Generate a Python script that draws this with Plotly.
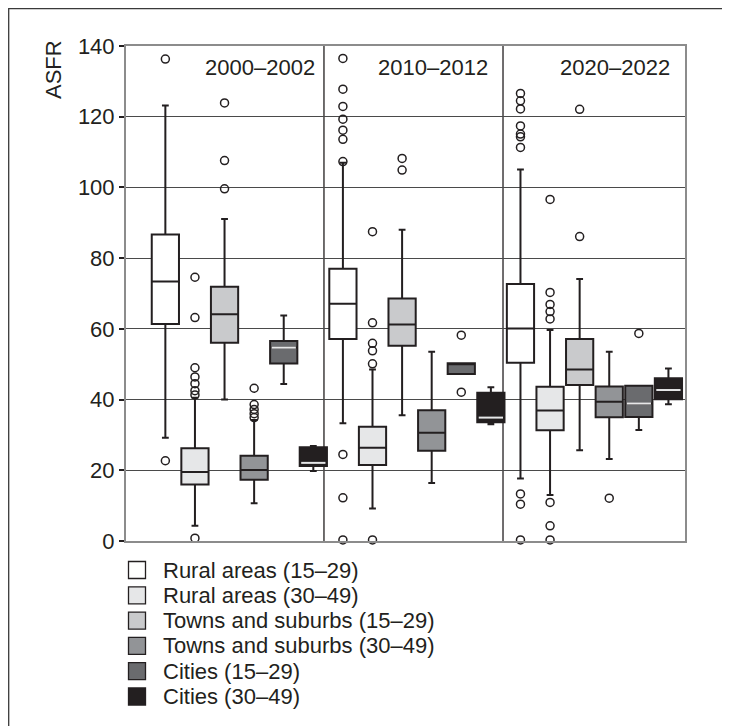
import plotly.graph_objects as go

# ---------------- data ----------------
periods = ["2000–2002", "2010–2012", "2020–2022"]
series = ["Rural areas (15–29)", "Rural areas (30–49)", "Towns and suburbs (15–29)",
          "Towns and suburbs (30–49)", "Cities (15–29)", "Cities (30–49)"]

# per series: values for the three periods
lower_whisker = {
    "Rural areas (15–29)":       [29.2, 33.3, 17.7],
    "Rural areas (30–49)":       [4.3, 9.2, 13.0],
    "Towns and suburbs (15–29)": [40.0, 35.6, 25.7],
    "Towns and suburbs (30–49)": [10.7, 16.4, 23.2],
    "Cities (15–29)":            [44.4, 47.2, 31.4],
    "Cities (30–49)":            [19.8, 33.0, 38.7],
}
q1 = {
    "Rural areas (15–29)":       [61.4, 57.1, 50.4],
    "Rural areas (30–49)":       [16.0, 21.5, 31.3],
    "Towns and suburbs (15–29)": [56.1, 55.2, 44.1],
    "Towns and suburbs (30–49)": [17.3, 25.5, 35.0],
    "Cities (15–29)":            [50.2, 47.2, 35.1],
    "Cities (30–49)":            [21.2, 33.6, 40.1],
}
median = {
    "Rural areas (15–29)":       [73.4, 67.1, 60.1],
    "Rural areas (30–49)":       [19.5, 26.4, 36.9],
    "Towns and suburbs (15–29)": [64.1, 61.2, 48.5],
    "Towns and suburbs (30–49)": [20.1, 30.6, 39.4],
    "Cities (15–29)":            [54.7, 50.3, 38.9],
    "Cities (30–49)":            [22.1, 34.9, 42.7],
}
q3 = {
    "Rural areas (15–29)":       [86.7, 77.0, 72.7],
    "Rural areas (30–49)":       [26.2, 32.3, 43.6],
    "Towns and suburbs (15–29)": [71.9, 68.6, 57.1],
    "Towns and suburbs (30–49)": [24.1, 37.0, 43.7],
    "Cities (15–29)":            [56.6, 50.3, 43.9],
    "Cities (30–49)":            [26.5, 41.9, 46.0],
}
upper_whisker = {
    "Rural areas (15–29)":       [123.2, 107.0, 105.1],
    "Rural areas (30–49)":       [40.5, 48.5, 59.7],
    "Towns and suburbs (15–29)": [91.1, 88.0, 74.1],
    "Towns and suburbs (30–49)": [34.2, 53.5, 53.5],
    "Cities (15–29)":            [63.8, 50.3, 43.9],
    "Cities (30–49)":            [26.9, 43.5, 48.8],
}
outliers = {
    "Rural areas (15–29)": [
        [136.3, 22.7],
        [136.5, 127.8, 122.9, 119.3, 116.2, 113.6, 107.3, 24.5, 12.2, 0.3],
        [126.6, 124.5, 122.2, 117.4, 115.1, 114.3, 111.3, 13.3, 10.4, 0.3]],
    "Rural areas (30–49)": [
        [74.6, 63.2, 49.0, 46.4, 44.5, 42.5, 41.3, 0.8],
        [87.5, 61.7, 55.9, 53.8, 50.1, 0.3],
        [96.6, 70.3, 66.9, 64.9, 62.8, 10.9, 4.3, 0.3]],
    "Towns and suburbs (15–29)": [
        [123.9, 107.6, 99.6],
        [108.2, 104.9],
        [122.1, 86.1]],
    "Towns and suburbs (30–49)": [
        [43.2, 38.6, 37.2, 36.0, 34.9],
        [],
        [12.1]],
    "Cities (15–29)": [
        [],
        [58.2, 42.1],
        [58.7]],
    "Cities (30–49)": [[], [], []],
}

y_ticks = [0, 20, 40, 60, 80, 100, 120, 140]

# ---------------- style ----------------
fills = ["#ffffff", "#e6e7e8", "#c9cacc", "#929497", "#6a6b6e", "#231f20"]
median_colors = ["#231f20", "#231f20", "#231f20", "#231f20", "#e6e7e8", "#e6e7e8"]
ink = "#231f20"
FONT = "Liberation Sans, Arial, Helvetica, sans-serif"

# figure is placed by the page with an 8 px body margin
W, H = 722, 718
ML, MR, MT, MB = 118, 45, 38, 185
PW, PH = W - ML - MR, H - MT - MB


def px_x(fx):   # figure pixel -> paper x
    return (fx - ML) / PW


def px_y(fy):   # figure pixel -> paper y
    return (H - MB - fy) / PH


first_pos = 1.33      # x position of first box in each panel
panel_step = 6.0      # distance between panels
box_w = 0.92
panel_right = [6.69, 12.74, 18.89]
title_shift = [-7, -13, -13]

fig = go.Figure()

for si, name in enumerate(series):
    xs = [first_pos + panel_step * p + si for p in range(len(periods))]
    fig.add_trace(go.Box(
        x=xs, q1=q1[name], median=median[name], q3=q3[name],
        lowerfence=lower_whisker[name], upperfence=upper_whisker[name],
        boxpoints=False, width=box_w, whiskerwidth=0.25,
        fillcolor=fills[si], line=dict(color=ink, width=2),
        name=name, showlegend=False, hoverinfo="skip"))

    # coloured median line (for dark boxes)
    if median_colors[si] != ink:
        mx, my = [], []
        for p, x in enumerate(xs):
            m = median[name][p]
            if q1[name][p] < m < q3[name][p]:
                mx += [x - box_w / 2 + 0.05, x + box_w / 2 - 0.05, None]
                my += [m, m, None]
        fig.add_trace(go.Scatter(x=mx, y=my, mode="lines",
                                 line=dict(color=median_colors[si], width=2),
                                 showlegend=False, hoverinfo="skip"))

    # outliers
    ox, oy = [], []
    for p, x in enumerate(xs):
        for v in outliers[name][p]:
            ox.append(x)
            oy.append(v)
    if ox:
        fig.add_trace(go.Scatter(x=ox, y=oy, mode="markers",
                                 marker=dict(symbol="circle-open", size=8,
                                             color=ink, line=dict(width=1.5, color=ink)),
                                 showlegend=False, hoverinfo="skip", cliponaxis=False))

shapes = []
annotations = []
for xr in panel_right[:-1]:
    shapes.append(dict(type="line", xref="x", yref="paper", x0=xr, x1=xr, y0=0, y1=1,
                       line=dict(color=ink, width=1.3), layer="below"))
# outer frame
shapes.append(dict(type="rect", xref="paper", yref="paper",
                   x0=px_x(0.7), x1=px_x(719), y0=px_y(H + 20), y1=px_y(0.7),
                   line=dict(color="#3a3a3a", width=1.3), fillcolor="rgba(0,0,0,0)"))

# legend (swatch + label per series)
leg_top, leg_step, sw = 562, 25.3, 17
for si, name in enumerate(series):
    cy = leg_top + leg_step * si
    shapes.append(dict(type="rect", xref="paper", yref="paper",
                       x0=px_x(120.5), x1=px_x(120.5 + sw),
                       y0=px_y(cy + sw / 2), y1=px_y(cy - sw / 2),
                       line=dict(color=ink, width=1.3), fillcolor=fills[si]))
    annotations.append(dict(text=name, x=px_x(153), xref="paper", xanchor="left",
                            y=px_y(cy), yref="paper", yanchor="middle", showarrow=False,
                            font=dict(size=22, color=ink, family=FONT)))

for p, per in enumerate(periods):
    annotations.append(dict(text=per, x=panel_right[p], xref="x", xanchor="right",
                            xshift=title_shift[p], y=px_y(59), yref="paper",
                            yanchor="middle", showarrow=False,
                            font=dict(size=22, color=ink, family=FONT)))
annotations.append(dict(text="ASFR", textangle=-90, x=px_x(46), xref="paper",
                        xanchor="center", y=px_y(62), yref="paper",
                        yanchor="middle", showarrow=False,
                        font=dict(size=22, color=ink, family=FONT)))

fig.update_layout(
    width=W, height=H,
    margin=dict(l=ML, r=MR, t=MT, b=MB, autoexpand=False),
    paper_bgcolor="white", plot_bgcolor="white",
    font=dict(family=FONT, color=ink, size=22),
    shapes=shapes, annotations=annotations, showlegend=False,
    xaxis=dict(range=[0, 18.89], showgrid=False, zeroline=False, showticklabels=False,
               ticks="", showline=True, mirror=True, linecolor="#8c8c8c", linewidth=2,
               fixedrange=True),
    yaxis=dict(range=[0, 140], tickvals=y_ticks, ticktext=[str(t) for t in y_ticks],
               showgrid=True, gridcolor="#4a4a4a", gridwidth=1, zeroline=False,
               ticks="outside", ticklen=5, tickwidth=1.5, tickcolor=ink,
               showline=True, mirror=True, linecolor="#8c8c8c", linewidth=2,
               tickfont=dict(size=22, color=ink, family=FONT), fixedrange=True),
)

fig.write_html("out.html")
